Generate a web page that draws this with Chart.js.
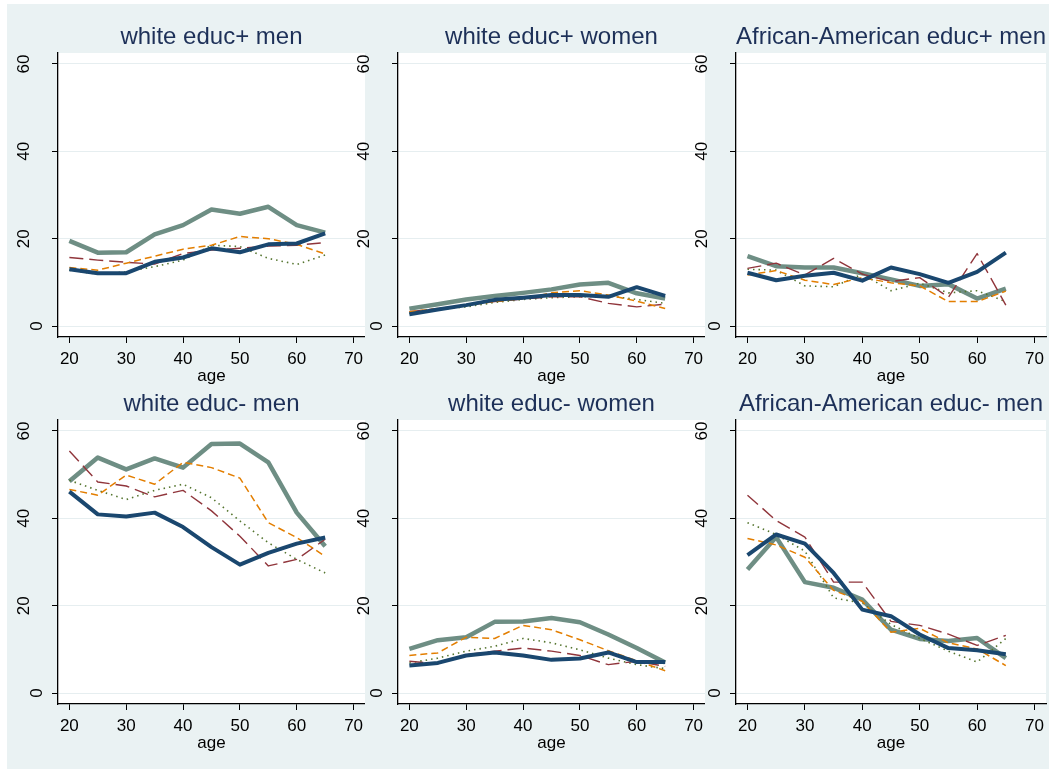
<!DOCTYPE html>
<html>
<head>
<meta charset="utf-8">
<script src="https://cdn.jsdelivr.net/npm/chart.js@4.4.0/dist/chart.umd.min.js"></script>
<style>
  body { margin: 0; background: #ffffff; }
  #bg { position: absolute; left: 7px; top: 4px; width: 1042px; height: 765px; background: #eaf2f3; }
  canvas { position: absolute; }
</style>
</head>
<body>
<div id="bg"></div>
<canvas id="p0"></canvas>
<canvas id="p1"></canvas>
<canvas id="p2"></canvas>
<canvas id="p3"></canvas>
<canvas id="p4"></canvas>
<canvas id="p5"></canvas>
<script>
// --- data ---
const ages = [20, 25, 30, 35, 40, 45, 50, 55, 60, 65];
const xTicks = [20, 30, 40, 50, 60, 70];
const yTicks = [0, 20, 40, 60];
const titles = ['white educ+ men', 'white educ+ women', 'African-American educ+ men',
                'white educ- men', 'white educ- women', 'African-American educ- men'];

// each panel: [navy solid, teal solid, orange dash, maroon long dash, green dot]
const whitePlusMen = [
  [13.0, 12.1, 12.1, 14.7, 15.7, 17.8, 16.9, 18.7, 18.9, 21.2],
  [19.5, 16.8, 16.9, 21.0, 23.1, 26.7, 25.7, 27.3, 23.1, 21.4],
  [13.4, 12.8, 14.4, 16.0, 17.6, 18.5, 20.5, 20.0, 18.7, 16.5],
  [15.7, 15.1, 14.6, 14.2, 16.6, 17.4, 17.8, 18.3, 18.5, 19.1],
  [12.8, 11.9, 12.4, 13.6, 15.1, 18.5, 18.2, 15.5, 14.1, 16.3]
];
const whitePlusWomen = [
  [2.7, 3.8, 4.8, 6.0, 6.5, 7.1, 7.1, 6.7, 8.9, 6.9],
  [4.0, 5.0, 6.1, 6.9, 7.6, 8.4, 9.5, 9.9, 7.5, 6.3],
  [3.3, 4.0, 4.8, 5.6, 6.3, 7.6, 8.1, 7.1, 5.7, 4.0],
  [3.3, 4.0, 4.8, 5.6, 6.2, 6.7, 6.7, 5.2, 4.4, 5.0],
  [2.9, 3.8, 4.4, 5.4, 6.1, 6.5, 6.7, 6.9, 6.1, 5.2]
];
const blackPlusMen = [
  [12.2, 10.5, 11.5, 12.2, 10.4, 13.4, 11.9, 9.9, 12.4, 16.8],
  [16.0, 13.7, 13.4, 13.4, 12.1, 10.7, 9.2, 9.6, 6.3, 8.6],
  [11.7, 12.7, 10.5, 9.5, 11.1, 9.9, 9.2, 5.6, 5.6, 8.0],
  [13.2, 14.4, 11.7, 15.5, 11.9, 10.2, 11.1, 6.6, 16.6, 4.8],
  [13.0, 12.8, 9.2, 9.0, 11.9, 8.1, 9.8, 7.6, 8.1, 5.6]
];
const whiteMinusMen = [
  [46.1, 40.9, 40.4, 41.3, 38.0, 33.4, 29.4, 32.1, 34.2, 35.6],
  [48.5, 53.9, 51.2, 53.7, 51.6, 57.0, 57.1, 52.8, 41.3, 33.6],
  [46.6, 45.3, 49.9, 47.8, 52.8, 51.6, 49.2, 39.0, 35.6, 31.3],
  [55.4, 48.3, 47.4, 44.9, 46.4, 41.7, 35.9, 29.1, 30.6, 35.2],
  [48.7, 46.4, 44.3, 46.4, 47.8, 44.7, 39.4, 34.4, 30.6, 27.5]
];
const whiteMinusWomen = [
  [6.3, 6.9, 8.6, 9.3, 8.6, 7.6, 7.9, 9.3, 7.1, 7.1],
  [10.1, 12.1, 12.8, 16.3, 16.4, 17.2, 16.2, 13.4, 10.3, 7.0],
  [8.6, 9.2, 12.8, 12.5, 15.5, 14.5, 12.2, 9.7, 7.4, 5.1],
  [7.3, 6.7, 8.8, 9.6, 10.3, 9.6, 8.6, 6.5, 7.3, 6.1],
  [6.9, 8.0, 9.6, 10.7, 12.5, 11.5, 9.9, 8.0, 6.5, 5.6]
];
const blackMinusMen = [
  [31.6, 36.3, 34.2, 27.5, 19.1, 17.6, 13.4, 10.3, 9.8, 8.9],
  [28.3, 35.7, 25.4, 24.1, 21.4, 14.5, 12.4, 11.9, 12.6, 8.0],
  [35.4, 33.9, 31.1, 23.5, 21.0, 13.9, 14.8, 11.5, 10.1, 6.3],
  [45.3, 39.5, 35.7, 25.4, 25.4, 16.4, 15.5, 13.5, 10.9, 13.2],
  [39.0, 36.3, 32.5, 21.8, 20.6, 15.7, 12.5, 9.6, 7.1, 12.5]
];
const panels = [whitePlusMen, whitePlusWomen, blackPlusMen, whiteMinusMen, whiteMinusWomen, blackMinusMen];

// --- styles ---
const FONT = '"Liberation Sans", Arial, sans-serif';
const lineStyles = [
  { color: '#1a476f', width: 4,   dash: [],        order: 0 },
  { color: '#6e8e84', width: 4.5, dash: [],        order: 4 },
  { color: '#e37e00', width: 1.5, dash: [7, 4],    order: 1 },
  { color: '#90353b', width: 1.4, dash: [14, 6],   order: 2 },
  { color: '#55752f', width: 1.6, dash: [1.5, 4],  order: 3 }
];
const colLeft = [58, 398, 736];
const colRight = [365, 705, 1046];
const rowTop = [53, 420];
const rowBottom = [337, 704];
const Y_AXIS_W = 52, TITLE_H = 45, X_AXIS_H = 50, PAD_R = 4;

// white plot region
const plotBg = {
  id: 'plotBg',
  beforeDraw(chart) {
    const a = chart.chartArea, ctx = chart.ctx;
    ctx.save();
    ctx.fillStyle = '#ffffff';
    ctx.fillRect(a.left, a.top, a.right - a.left, a.bottom - a.top);
    ctx.restore();
  }
};

// rotated y tick labels, Stata style
const yLabels = {
  id: 'yLabels',
  afterDraw(chart) {
    const s = chart.scales.y, ctx = chart.ctx;
    ctx.save();
    ctx.font = '17px ' + FONT;
    ctx.fillStyle = '#000';
    ctx.textAlign = 'center';
    ctx.textBaseline = 'middle';
    const widest = Math.max(...s.ticks.map(t => ctx.measureText(String(t.value)).width));
    s.ticks.forEach(t => {
      const txt = String(t.value);
      const w = ctx.measureText(txt).width;
      const x = s.right - 34 + (widest - w) * 1.42;
      const y = s.getPixelForValue(t.value);
      ctx.save();
      ctx.translate(x, y);
      ctx.rotate(-Math.PI / 2);
      ctx.fillText(txt, 0, 0);
      ctx.restore();
    });
    ctx.restore();
  }
};

panels.forEach((series, i) => {
  const col = i % 3, row = Math.floor(i / 3);
  const left = colLeft[col] - Y_AXIS_W;
  const top = rowTop[row] - TITLE_H;
  const width = colRight[col] + PAD_R - left;
  const height = rowBottom[row] + X_AXIS_H - top;
  const canvas = document.getElementById('p' + i);
  canvas.width = width;
  canvas.height = height;
  canvas.style.left = left + 'px';
  canvas.style.top = top + 'px';
  canvas.style.width = width + 'px';
  canvas.style.height = height + 'px';

  new Chart(canvas, {
    type: 'line',
    data: {
      datasets: series.map((vals, k) => ({
        data: ages.map((a, j) => ({ x: a, y: vals[j] })),
        borderColor: lineStyles[k].color,
        borderWidth: lineStyles[k].width,
        borderDash: lineStyles[k].dash,
        borderCapStyle: 'butt',
        borderJoinStyle: 'round',
        order: lineStyles[k].order,
        pointRadius: 0,
        tension: 0,
        fill: false
      }))
    },
    options: {
      responsive: false,
      animation: false,
      events: [],
      layout: { padding: { left: 0, right: PAD_R, top: 0, bottom: 0 } },
      plugins: {
        legend: { display: false },
        tooltip: { enabled: false },
        title: {
          display: true,
          text: titles[i],
          fullSize: false,
          color: '#1d3058',
          font: { family: FONT, size: 24, weight: 'normal', lineHeight: 1.2 },
          padding: { top: 15, bottom: 1.2 }
        }
      },
      scales: {
        x: {
          type: 'linear',
          min: 18,
          max: 72,
          afterBuildTicks: s => { s.ticks = xTicks.map(v => ({ value: v })); },
          afterFit: s => { s.height = X_AXIS_H; },
          grid: { drawOnChartArea: false, drawTicks: true, tickLength: 6, tickColor: '#000', tickWidth: 1 },
          border: { display: true, color: '#000', width: 1.3 },
          ticks: { color: '#000', padding: 5.8, maxRotation: 0, font: { family: FONT, size: 17 } },
          title: { display: true, text: 'age', color: '#000', font: { family: FONT, size: 17 }, padding: { top: 0, bottom: 0 } }
        },
        y: {
          type: 'linear',
          min: -2.5,
          max: 62.5,
          afterBuildTicks: s => { s.ticks = yTicks.map(v => ({ value: v })); },
          afterFit: s => { s.width = Y_AXIS_W; },
          grid: { color: '#e6eef0', lineWidth: 1, drawTicks: true, tickLength: 6, tickColor: '#000', tickWidth: 1 },
          border: { display: true, color: '#000', width: 1.3 },
          ticks: { display: false }
        }
      }
    },
    plugins: [plotBg, yLabels]
  });
});
</script>
</body>
</html>
